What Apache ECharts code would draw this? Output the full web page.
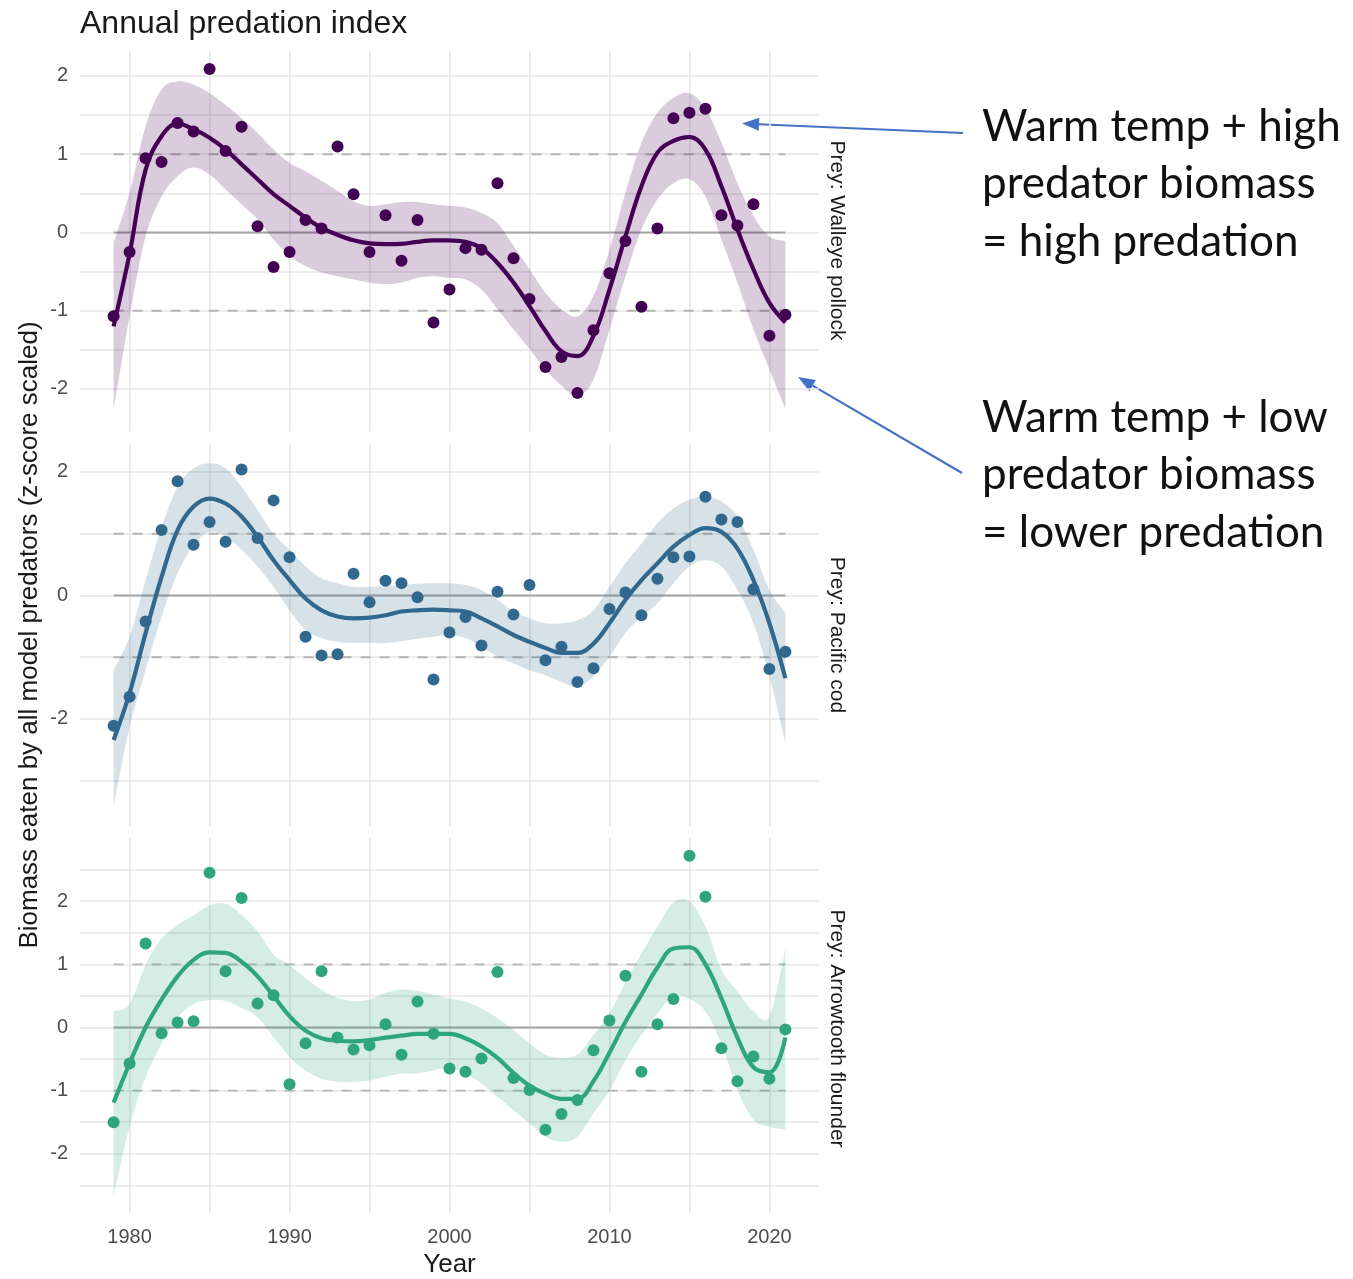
<!DOCTYPE html>
<html>
<head>
<meta charset="utf-8">
<title>Annual predation index</title>
<script src="https://cdn.jsdelivr.net/npm/echarts@6/dist/echarts.min.js"></script>
<style>
  html, body { margin: 0; padding: 0; background: #fff; }
  #main { width: 1353px; height: 1279px; }
</style>
</head>
<body>
<div id="main"></div>
<script>
// survey years
const years = [1979, 1980, 1981, 1982, 1983, 1984, 1985, 1986, 1987, 1988, 1989,
  1990, 1991, 1992, 1993, 1994, 1995, 1996, 1997, 1998, 1999,
  2000, 2001, 2002, 2003, 2004, 2005, 2006, 2007, 2008, 2009,
  2010, 2011, 2012, 2013, 2014, 2015, 2016, 2017, 2018, 2019, 2020, 2021];

const preyNames = ['Prey: Walleye pollock', 'Prey: Pacific cod', 'Prey: Arrowtooth flounder'];
const preyColors = ['#440154', '#31688e', '#2ea57d'];

// walleye pollock: yearly z-score, smooth fit and its band
const pollockObs = [-1.07, -0.25, 0.95, 0.90, 1.40, 1.29, 2.09, 1.04, 1.35, 0.08, -0.44,
  -0.25, 0.16, 0.05, 1.10, 0.49, -0.25, 0.22, -0.36, 0.16, -1.15,
  -0.73, -0.20, -0.22, 0.63, -0.33, -0.85, -1.72, -1.59, -2.05, -1.25,
  -0.52, -0.11, -0.95, 0.05, 1.46, 1.53, 1.58, 0.22, 0.09, 0.36, -1.32, -1.05];
const pollockFit = [-1.20, -0.27, 0.80, 1.23, 1.39, 1.32, 1.21, 1.06, 0.87, 0.68, 0.49,
  0.34, 0.19, 0.06, -0.03, -0.10, -0.14, -0.15, -0.145, -0.12, -0.10,
  -0.10, -0.12, -0.20, -0.39, -0.64, -0.94, -1.26, -1.52, -1.58, -1.32,
  -0.73, -0.05, 0.59, 1.02, 1.17, 1.22, 1.06, 0.59, 0.04, -0.47, -0.90, -1.15];
const pollockUpper = [-0.13, 0.51, 1.36, 1.83, 1.93, 1.89, 1.78, 1.63, 1.46, 1.27, 1.06,
  0.89, 0.78, 0.66, 0.53, 0.40, 0.34, 0.36, 0.39, 0.39, 0.36,
  0.34, 0.32, 0.25, 0.12, -0.17, -0.47, -0.77, -0.98, -1.07, -0.81,
  -0.22, 0.51, 1.15, 1.53, 1.72, 1.78, 1.59, 1.15, 0.63, 0.21, -0.05, -0.11];
const pollockLower = [-2.26, -1.07, -0.05, 0.46, 0.72, 0.83, 0.74, 0.55, 0.36, 0.17, -0.09,
  -0.30, -0.43, -0.51, -0.56, -0.60, -0.64, -0.66, -0.64, -0.58, -0.56,
  -0.58, -0.60, -0.73, -0.98, -1.24, -1.49, -1.75, -1.96, -2.09, -1.88,
  -1.24, -0.56, 0.04, 0.42, 0.63, 0.68, 0.46, -0.09, -0.64, -1.24, -1.75, -2.26];

// pacific cod
const codObs = [-2.11, -1.64, -0.42, 1.06, 1.85, 0.82, 1.19, 0.87, 2.04, 0.93, 1.54,
  0.62, -0.67, -0.97, -0.95, 0.35, -0.11, 0.24, 0.20, -0.03, -1.36,
  -0.60, -0.35, -0.81, 0.06, -0.31, 0.17, -1.05, -0.83, -1.40, -1.18,
  -0.22, 0.05, -0.32, 0.27, 0.62, 0.63, 1.60, 1.23, 1.19, 0.10, -1.19, -0.91];
const codFit = [-2.34, -1.58, -0.61, 0.30, 1.06, 1.44, 1.57, 1.49, 1.28, 0.95, 0.57,
  0.25, -0.05, -0.24, -0.34, -0.37, -0.36, -0.32, -0.26, -0.24, -0.23,
  -0.24, -0.26, -0.37, -0.50, -0.64, -0.75, -0.85, -0.93, -0.93, -0.78,
  -0.45, -0.07, 0.25, 0.52, 0.79, 0.98, 1.09, 1.03, 0.76, 0.25, -0.45, -1.34];
const codUpper = [-1.21, -0.67, 0.25, 1.11, 1.76, 2.06, 2.14, 2.06, 1.76, 1.38, 1.00,
  0.74, 0.47, 0.28, 0.20, 0.14, 0.14, 0.15, 0.17, 0.19, 0.20,
  0.20, 0.17, 0.09, -0.07, -0.26, -0.37, -0.45, -0.45, -0.40, -0.24,
  0.14, 0.52, 0.84, 1.17, 1.41, 1.55, 1.60, 1.52, 1.28, 0.74, 0.09, -0.29];
const codLower = [-3.40, -2.13, -1.21, -0.34, 0.36, 0.82, 1.03, 0.95, 0.74, 0.47, 0.14,
  -0.24, -0.56, -0.69, -0.75, -0.77, -0.77, -0.77, -0.74, -0.70, -0.67,
  -0.64, -0.69, -0.83, -0.99, -1.10, -1.21, -1.29, -1.40, -1.48, -1.31,
  -0.99, -0.61, -0.34, -0.13, 0.20, 0.47, 0.57, 0.47, 0.09, -0.45, -1.31, -2.39];

// arrowtooth flounder
const flounderObs = [-1.50, -0.57, 1.33, -0.09, 0.08, 0.10, 2.45, 0.89, 2.05, 0.38, 0.51,
  -0.90, -0.25, 0.89, -0.16, -0.35, -0.28, 0.05, -0.43, 0.41, -0.10,
  -0.65, -0.70, -0.49, 0.88, -0.80, -0.99, -1.62, -1.37, -1.15, -0.36,
  0.11, 0.82, -0.70, 0.05, 0.45, 2.72, 2.07, -0.33, -0.85, -0.46, -0.81, -0.03];
const flounderFit = [-1.19, -0.57, 0.00, 0.44, 0.81, 1.07, 1.19, 1.18, 1.04, 0.81, 0.50,
  0.18, -0.05, -0.17, -0.21, -0.22, -0.20, -0.16, -0.13, -0.10, -0.10,
  -0.10, -0.17, -0.30, -0.48, -0.72, -0.92, -1.05, -1.13, -1.13, -0.85,
  -0.40, 0.09, 0.52, 0.95, 1.25, 1.27, 1.00, 0.46, -0.16, -0.63, -0.71, -0.16];
const flounderUpper = [0.26, 0.37, 0.99, 1.41, 1.62, 1.78, 1.93, 1.96, 1.78, 1.52, 1.15,
  0.99, 0.78, 0.60, 0.47, 0.42, 0.44, 0.55, 0.60, 0.58, 0.52,
  0.46, 0.41, 0.30, 0.15, -0.04, -0.25, -0.43, -0.48, -0.43, -0.12,
  0.22, 0.72, 1.17, 1.60, 1.98, 2.00, 1.60, 0.92, 0.57, 0.26, 0.18, 1.25];
const flounderLower = [-2.66, -1.57, -0.78, -0.26, 0.16, 0.37, 0.43, 0.42, 0.31, 0.16, -0.16,
  -0.47, -0.68, -0.81, -0.86, -0.86, -0.84, -0.78, -0.73, -0.73, -0.68,
  -0.64, -0.73, -0.89, -1.10, -1.31, -1.52, -1.73, -1.81, -1.73, -1.36,
  -1.00, -0.52, -0.12, 0.22, 0.50, 0.45, 0.25, -0.26, -0.99, -1.46, -1.57, -1.62];

// axis ticks and grid lines
const xLabelTicks = [1980, 1990, 2000, 2010, 2020];
const xGridTicks = [1980, 1985, 1990, 1995, 2000, 2005, 2010, 2015, 2020];
const yLabelTicks = [[-2, -1, 0, 1, 2], [-2, 0, 2], [-2, -1, 0, 1, 2]];
const yGridTicks = [
  [-2, -1.5, -1, -0.5, 0, 0.5, 1, 1.5, 2],
  [-3, -2, -1, 0, 1, 2],
  [-2.5, -2, -1.5, -1, -0.5, 0, 0.5, 1, 1.5, 2, 2.5]
];

const panels = [
  {obs: pollockObs, fit: pollockFit, upper: pollockUpper, lower: pollockLower},
  {obs: codObs, fit: codFit, upper: codUpper, lower: codLower},
  {obs: flounderObs, fit: flounderFit, upper: flounderUpper, lower: flounderLower}
];

// panel layout (pixels) and y extents
const panelTop = [50, 444, 838];
const panelHeight = [381, 382, 381];
const yRange = [[-2.537, 2.332], [-3.733, 2.453], [-2.953, 3.0]];

const textFont = 'Liberation Sans';
const gridColor = '#e6e6e6';

const pairs = (vals) => years.map((y, i) => [y, vals[i]]);

// catmull-rom through pixel points so the band edge is curved like the fit
function spline(pts, steps) {
  const out = [];
  const n = pts.length;
  for (let i = 0; i < n - 1; i++) {
    const p0 = pts[Math.max(i - 1, 0)], p1 = pts[i], p2 = pts[i + 1], p3 = pts[Math.min(i + 2, n - 1)];
    for (let s = 0; s < steps; s++) {
      const t = s / steps, t2 = t * t, t3 = t2 * t;
      const f = (a, b, c, d) => 0.5 * (2 * b + (-a + c) * t + (2 * a - 5 * b + 4 * c - d) * t2 + (-a + 3 * b - 3 * c + d) * t3);
      out.push([f(p0[0], p1[0], p2[0], p3[0]), f(p0[1], p1[1], p2[1], p3[1])]);
    }
  }
  out.push(pts[n - 1]);
  return out;
}

const grid = [], xAxis = [], yAxis = [], series = [];

panels.forEach((p, k) => {
  const color = preyColors[k];
  grid.push({left: 80, right: 534, top: panelTop[k], height: panelHeight[k]});
  xAxis.push({
    type: 'value', gridIndex: k, min: 1976.9, max: 2023.1,
    axisLine: {show: false},
    axisTick: {show: false, customValues: xGridTicks},
    axisLabel: {
      show: k === 2, customValues: xLabelTicks, margin: 13,
      formatter: (v) => String(v),
      color: '#4d4d4d', fontSize: 20, fontFamily: textFont
    },
    splitLine: {show: true, lineStyle: {color: gridColor, width: 1.6}},
    name: k === 2 ? 'Year' : '',
    nameLocation: 'middle', nameGap: 38,
    nameTextStyle: {fontSize: 26, color: '#1a1a1a', fontFamily: textFont}
  });
  yAxis.push({
    type: 'value', gridIndex: k, min: yRange[k][0], max: yRange[k][1],
    axisLine: {show: false},
    axisTick: {show: false, customValues: yGridTicks[k]},
    axisLabel: {
      customValues: yLabelTicks[k], margin: 12,
      color: '#4d4d4d', fontSize: 20, fontFamily: textFont
    },
    splitLine: {show: true, lineStyle: {color: gridColor, width: 1.6}}
  });

  const first = years[0], last = years[years.length - 1];
  const refLine = (v, type, clr) => ({
    type: 'line', xAxisIndex: k, yAxisIndex: k, silent: true, z: 1,
    symbol: 'none', data: [[first, v], [last, v]],
    lineStyle: {color: clr, width: 1.8, type: type}
  });
  series.push(refLine(0, 'solid', '#a3a3a3'));
  series.push(refLine(1, [10, 9], '#b5b5b5'));
  series.push(refLine(-1, [10, 9], '#b5b5b5'));

  // confidence band drawn as one polygon from the upper and lower edges
  const bandFill = echarts.color.modifyAlpha(color, 0.2);
  series.push({
    type: 'custom', xAxisIndex: k, yAxisIndex: k, z: 2, silent: true,
    data: pairs(p.upper),
    renderItem: (params, api) => {
      if (params.dataIndex !== 0) return null;
      const up = years.map((y, i) => api.coord([y, p.upper[i]]));
      const lo = years.map((y, i) => api.coord([y, p.lower[i]])).reverse();
      return {
        type: 'polygon',
        shape: {points: spline(up, 8).concat(spline(lo, 8))},
        style: {fill: bandFill}
      };
    }
  });

  series.push({
    type: 'scatter', xAxisIndex: k, yAxisIndex: k, z: 3,
    symbolSize: 12, data: pairs(p.obs), itemStyle: {color: color, opacity: 1}
  });
  series.push({
    type: 'line', xAxisIndex: k, yAxisIndex: k, z: 4,
    symbol: 'none', smooth: 0.4, data: pairs(p.fit),
    lineStyle: {color: color, width: 4.2}
  });
});

// arrow helper for the annotations
function arrow(x1, y1, x2, y2) {
  const a = Math.atan2(y2 - y1, x2 - x1);
  const len = 17, half = 6.5;
  const bx = x2 - len * Math.cos(a), by = y2 - len * Math.sin(a);
  const nx = -Math.sin(a) * half, ny = Math.cos(a) * half;
  return [
    {type: 'line', shape: {x1: x1, y1: y1, x2: bx, y2: by},
      style: {stroke: '#4472c4', lineWidth: 2.2}},
    {type: 'polygon', shape: {points: [[x2, y2], [bx + nx, by + ny], [bx - nx, by - ny]]},
      style: {fill: '#4472c4'}}
  ];
}

const stripX = 837;
const graphics = [
  {type: 'text', left: 80, top: 8,
    style: {text: 'Annual predation index', fontSize: 32, fill: '#1a1a1a', fontFamily: textFont}},
  {type: 'text', x: 30, y: 635, rotation: Math.PI / 2,
    style: {text: 'Biomass eaten by all model predators (z-score scaled)', fontSize: 26,
      fill: '#1a1a1a', fontFamily: textFont, align: 'center', verticalAlign: 'middle'}},
  {type: 'text', x: 982, y: 98,
    style: {text: 'Warm temp + high\npredator biomass\n= high predation', fontSize: 44,
      lineHeight: 57.5, fill: '#111', fontFamily: 'Lato'}},
  {type: 'text', x: 982, y: 389,
    style: {text: 'Warm temp + low\npredator biomass\n= lower predation', fontSize: 44,
      lineHeight: 57.5, fill: '#111', fontFamily: 'Lato'}}
].concat(arrow(963, 133, 742, 123.5), arrow(962, 473, 798, 377));

preyNames.forEach((name, k) => {
  graphics.push({
    type: 'text', x: stripX, y: panelTop[k] + panelHeight[k] / 2, rotation: -Math.PI / 2,
    style: {text: name, fontSize: 21, fill: '#1a1a1a', fontFamily: textFont,
      align: 'center', verticalAlign: 'middle'}
  });
});

const chart = echarts.init(document.getElementById('main'), null, {renderer: 'canvas'});
chart.setOption({
  backgroundColor: '#ffffff',
  animation: false,
  grid: grid,
  xAxis: xAxis,
  yAxis: yAxis,
  series: series,
  graphic: graphics
});
</script>
</body>
</html>
